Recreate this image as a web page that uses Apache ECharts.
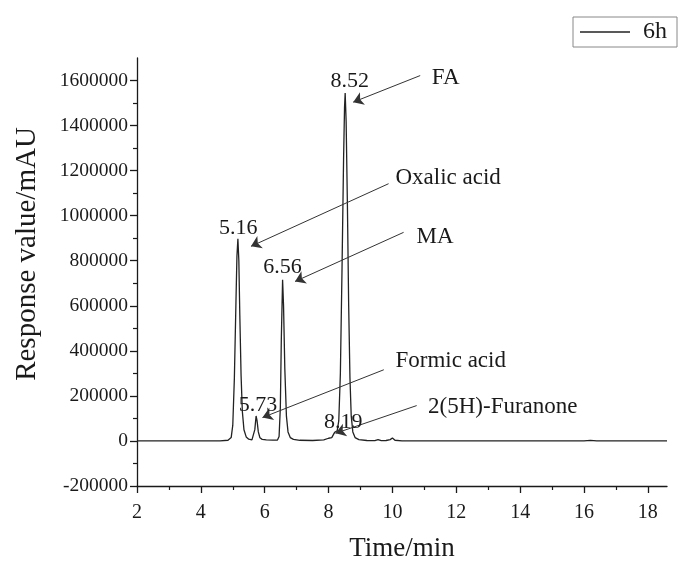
<!DOCTYPE html>
<html>
<head>
<meta charset="utf-8">
<script src="https://cdn.jsdelivr.net/npm/echarts@6/dist/echarts.min.js"></script>
<style>html,body{margin:0;padding:0;background:#fff}#c{width:683px;height:561px}</style>
</head>
<body>
<div id="c"></div>
<script>
// ---- data ----
const seriesName = '6h';
const time = [2.0, 4.6, 4.85, 4.95, 5.0, 5.05, 5.1, 5.13, 5.16, 5.19, 5.22, 5.26, 5.3, 5.35, 5.42, 5.5, 5.6, 5.65, 5.69, 5.73, 5.76, 5.8, 5.85, 5.92, 6.05, 6.25, 6.4, 6.45, 6.49, 6.52, 6.56, 6.59, 6.63, 6.68, 6.73, 6.8, 6.9, 7.1, 7.5, 7.85, 8.0, 8.1, 8.15, 8.19, 8.23, 8.27, 8.32, 8.37, 8.42, 8.47, 8.5, 8.52, 8.55, 8.59, 8.63, 8.67, 8.71, 8.76, 8.83, 8.95, 9.2, 9.45, 9.55, 9.65, 9.8, 9.93, 10.0, 10.08, 10.3, 11.0, 16.0, 16.2, 16.4, 18.6];
const response = [0, 0, 3000, 15000, 70000, 280000, 620000, 820000, 898000, 800000, 560000, 290000, 130000, 50000, 18000, 8000, 5000, 10000, 50000, 111000, 90000, 40000, 14000, 7000, 5000, 4000, 4000, 20000, 150000, 450000, 716000, 600000, 320000, 110000, 40000, 15000, 7000, 3000, 2000, 5000, 12000, 15000, 22000, 38000, 30000, 45000, 90000, 300000, 750000, 1250000, 1480000, 1545000, 1420000, 1050000, 600000, 280000, 110000, 40000, 15000, 6000, 2000, 1000, 6000, 1000, 2000, 6000, 13000, 3000, 0, 0, 0, 3000, 0, 0];
const xTicks = [2, 4, 6, 8, 10, 12, 14, 16, 18];
const yTicks = [-200000, 0, 200000, 400000, 600000, 800000, 1000000, 1200000, 1400000, 1600000];
const peakLabels = ['5.16', '5.73', '6.56', '8.52', '8.19'];
const compoundNames = ['FA', 'Oxalic acid', 'MA', 'Formic acid', '2(5H)-Furanone'];

// ---- annotation placement (data coordinates) ----
const peakLabelPos = [[5.17, 945000], [5.79, 160000], [6.56, 772000], [8.66, 1595000], [8.46, 85000]];
const namePos = [[11.22, 1610000], [10.08, 1168000], [10.74, 905000], [10.08, 354000], [11.1, 150000]];
const arrowPos = [
  [10.87, 1622000, 8.77, 1504000],
  [9.88, 1142000, 5.57, 864000],
  [10.35, 926000, 6.95, 708000],
  [9.73, 316000, 5.93, 104000],
  [10.76, 157000, 8.22, 34000]
];

const FONT = "'Liberation Serif', 'Times New Roman', serif";
const INK = '#1a1a1a';

const chart = echarts.init(document.getElementById('c'));
const markPts = [];
peakLabels.forEach((t, i) => markPts.push({
  coord: peakLabelPos[i], value: t,
  label: {show: true, position: 'inside', formatter: t, fontSize: 22, fontFamily: FONT, color: INK}
}));
compoundNames.forEach((t, i) => markPts.push({
  coord: namePos[i], value: t,
  label: {show: true, position: 'right', distance: 0, formatter: t, fontSize: 23, fontFamily: FONT, color: INK}
}));

chart.setOption({
  animation: false,
  backgroundColor: '#fff',
  grid: {left: 137, right: 16, top: 58, bottom: 75, containLabel: false, outerBoundsMode: 'none'},
  legend: {
    data: [seriesName], left: 573, top: 17,
    icon: 'path://M0,0 L50,0 L50,1.4 L0,1.4 Z',
    padding: [3, 10, 3, 7], itemWidth: 50, itemHeight: 2, itemGap: 0,
    borderColor: '#888', borderWidth: 1, backgroundColor: '#fff',
    textStyle: {fontSize: 24, fontFamily: FONT, color: INK, padding: [0, 0, 0, 8]}
  },
  xAxis: {
    type: 'value', min: 2, max: 18.6, interval: 2,
    name: 'Time/min', nameLocation: 'middle', nameGap: 49,
    nameTextStyle: {fontSize: 27, fontFamily: FONT, color: INK},
    axisLine: {show: true, onZero: false, lineStyle: {color: INK, width: 1.3}},
    axisTick: {show: true, inside: false, length: 7, customValues: xTicks, lineStyle: {color: INK, width: 1.3}},
    minorTick: {show: true, splitNumber: 2, length: 4, lineStyle: {color: INK, width: 1.2}},
    axisLabel: {customValues: xTicks, fontSize: 20, fontFamily: FONT, color: INK, margin: 17, formatter: v => String(v)},
    splitLine: {show: false}
  },
  yAxis: {
    type: 'value', min: -200000, max: 1700000, interval: 200000,
    axisLine: {show: true, onZero: false, lineStyle: {color: INK, width: 1.3}},
    axisTick: {show: true, inside: false, length: 7, customValues: yTicks, lineStyle: {color: INK, width: 1.3}},
    minorTick: {show: true, splitNumber: 2, length: 4, lineStyle: {color: INK, width: 1.2}},
    axisLabel: {customValues: yTicks, fontSize: 19.5, fontFamily: FONT, color: INK, margin: 9, formatter: v => String(v)},
    splitLine: {show: false}
  },
  graphic: [{
    type: 'text', x: 27, y: 254, rotation: Math.PI / 2,
    style: {text: 'Response value/mAU', fontSize: 29, fontFamily: FONT, fill: INK, align: 'center', verticalAlign: 'middle'}
  }],
  series: [{
    name: seriesName, type: 'line', symbol: 'none', smooth: false,
    lineStyle: {color: '#222', width: 1.3},
    itemStyle: {color: '#222'},
    data: time.map((t, i) => [t, response[i]]),
    markPoint: {
      symbol: 'circle', symbolSize: 1, itemStyle: {color: 'rgba(0,0,0,0)'},
      silent: true, data: markPts
    },
    markLine: {
      silent: true, symbol: ['none', 'arrow'], symbolSize: 10,
      label: {show: false},
      lineStyle: {color: '#333', width: 1, type: 'solid'},
      itemStyle: {color: '#111'},
      data: arrowPos.map(a => [{coord: [a[0], a[1]]}, {coord: [a[2], a[3]]}])
    }
  }]
});
</script>
</body>
</html>
